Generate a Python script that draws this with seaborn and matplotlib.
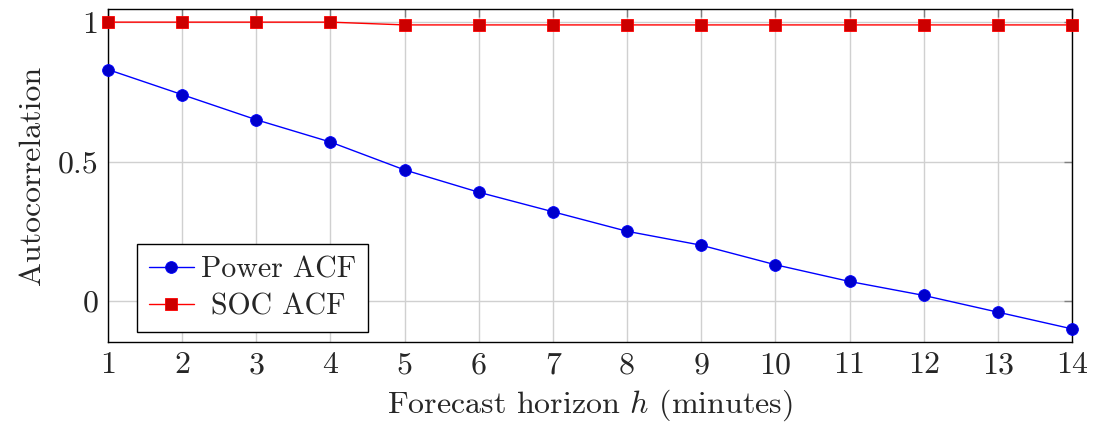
import matplotlib
matplotlib.use("Agg")
import matplotlib.pyplot as plt
import seaborn as sns
import pandas as pd

# Autocorrelation by forecast horizon (minutes)
horizon = [1, 2, 3, 4, 5, 6, 7, 8, 9, 10, 11, 12, 13, 14]
power_acf = [0.83, 0.74, 0.65, 0.57, 0.47, 0.39, 0.32, 0.25, 0.20, 0.13, 0.07, 0.02, -0.04, -0.10]
soc_acf = [1.00, 1.00, 1.00, 1.00, 0.99, 0.99, 0.99, 0.99, 0.99, 0.99, 0.99, 0.99, 0.99, 0.99]
y_ticks = [0, 0.5, 1]
y_tick_labels = ["0", "0.5", "1"]

sns.set_style("white")
plt.rcParams["font.family"] = ["cmr10"]
plt.rcParams["mathtext.fontset"] = "cm"
plt.rcParams["axes.formatter.use_mathtext"] = True

df = pd.concat([
    pd.DataFrame({"h": horizon, "acf": power_acf, "series": "Power ACF"}),
    pd.DataFrame({"h": horizon, "acf": soc_acf, "series": "SOC ACF"}),
])

fig = plt.figure(figsize=(10.94, 4.30), dpi=100)
ax = fig.add_axes([0.0987, 0.2047, 0.8812, 0.7743])

styles = {
    "Power ACF": dict(color="#0000ff", marker="o", mfc="#0000cc", mec="#0000ff", ms=8.5),
    "SOC ACF": dict(color="#ff0000", marker="s", mfc="#cc0000", mec="#ff0000", ms=8),
}
for name, st in styles.items():
    sub = df[df["series"] == name]
    sns.lineplot(data=sub, x="h", y="acf", ax=ax, label=name,
                 color=st["color"], marker=st["marker"], markersize=st["ms"],
                 markerfacecolor=st["mfc"], markeredgecolor=st["mec"],
                 markeredgewidth=0.6, linewidth=1.0, clip_on=False, zorder=3)

ax.set_xlim(1, 14)
ax.set_ylim(-0.147, 1.047)
ax.set_xticks(horizon)
ax.set_xticklabels([str(v) for v in horizon])
ax.set_yticks(y_ticks)
ax.set_yticklabels(y_tick_labels)

ax.grid(True, color="#d0d0d0", linewidth=1.0, zorder=0)
ax.set_axisbelow(True)
ax.tick_params(axis="both", which="both", direction="in", length=6, width=1.0,
               color="#808080", top=True, right=True, labelsize=23, pad=7)
for sp in ax.spines.values():
    sp.set_color("black")
    sp.set_linewidth(1.0)

ax.set_xlabel("Forecast horizon $h$ (minutes)", fontsize=23, labelpad=6)
ax.set_ylabel("Autocorrelation", fontsize=23, labelpad=8)

leg = ax.legend(loc="lower left", bbox_to_anchor=(0.030, 0.030), fontsize=21.5,
                frameon=True, fancybox=False, edgecolor="black", framealpha=1,
                handlelength=1.5, handletextpad=0.25, borderpad=0.4,
                labelspacing=0.3, borderaxespad=0.0)
leg.get_frame().set_linewidth(1.0)

# centre the shorter legend entry under the longer one
fig.canvas.draw()
texts = leg.get_texts()
widths = [t.get_window_extent().width for t in texts]
wmax = max(widths)
for t, w in zip(texts, widths):
    t.set_position(((wmax - w) / 2, 0))

fig.savefig("out.png", dpi=100)
